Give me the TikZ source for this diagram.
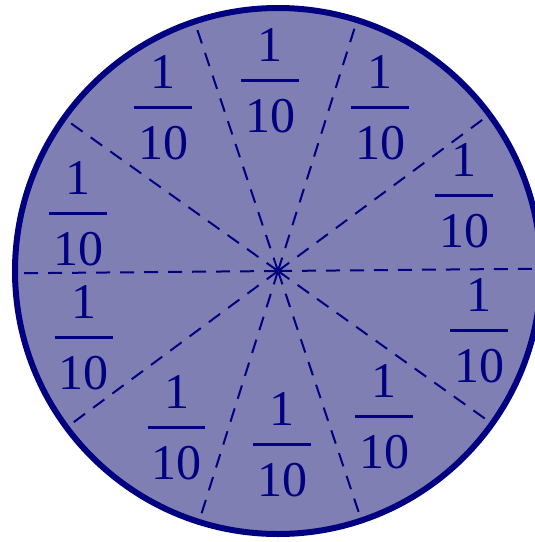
\documentclass[tikz,border=0pt]{standalone}
\usepackage{fontspec}
\setmainfont{Liberation Serif}
\definecolor{navyc}{RGB}{0,0,128}
\definecolor{fillc}{RGB}{127,127,180}
\newcommand\myfrac{\vbox{\offinterlineskip\hbox to 58pt{\hss 1\hss}\kern17.4pt\hrule height 3.2pt\kern17.4pt\hbox to 58pt{\hss 10\hss}}}
\tikzset{
  fracnode/.style={inner sep=0pt, text=navyc, font=\fontsize{50}{60}\selectfont},
  divline/.style={draw=navyc, line width=2pt, dash pattern=on 14pt off 10pt},
  rim/.style={draw=navyc, line width=6pt},
}
\begin{document}
\begin{tikzpicture}[x=1pt,y=-1pt]
\useasboundingbox (0,0) rectangle (535,542);
\clip (0,0) rectangle (535,542);
\coordinate (c) at (278,271);
\fill[fillc] (c) circle (263);
\foreach \i in {0,...,9} {
  \path (c) ++({-(\i*36+0.5)}:261) coordinate (e\i);
  \draw[divline] (c) -- (e\i);
}
\fill[navyc] (c) circle (3);
\draw[rim] (c) circle (263);
\node[fracnode] (f1) at (270,81) {\myfrac};
\node[fracnode] (f2) at (163,108) {\myfrac};
\node[fracnode] (f3) at (380,108) {\myfrac};
\node[fracnode] (f4) at (464,196) {\myfrac};
\node[fracnode] (f5) at (479,331) {\myfrac};
\node[fracnode] (f6) at (78,214) {\myfrac};
\node[fracnode] (f7) at (84,338) {\myfrac};
\node[fracnode] (f8) at (176.5,428) {\myfrac};
\node[fracnode] (f9) at (282,445) {\myfrac};
\node[fracnode] (f10) at (384,417) {\myfrac};
\end{tikzpicture}
\end{document}
